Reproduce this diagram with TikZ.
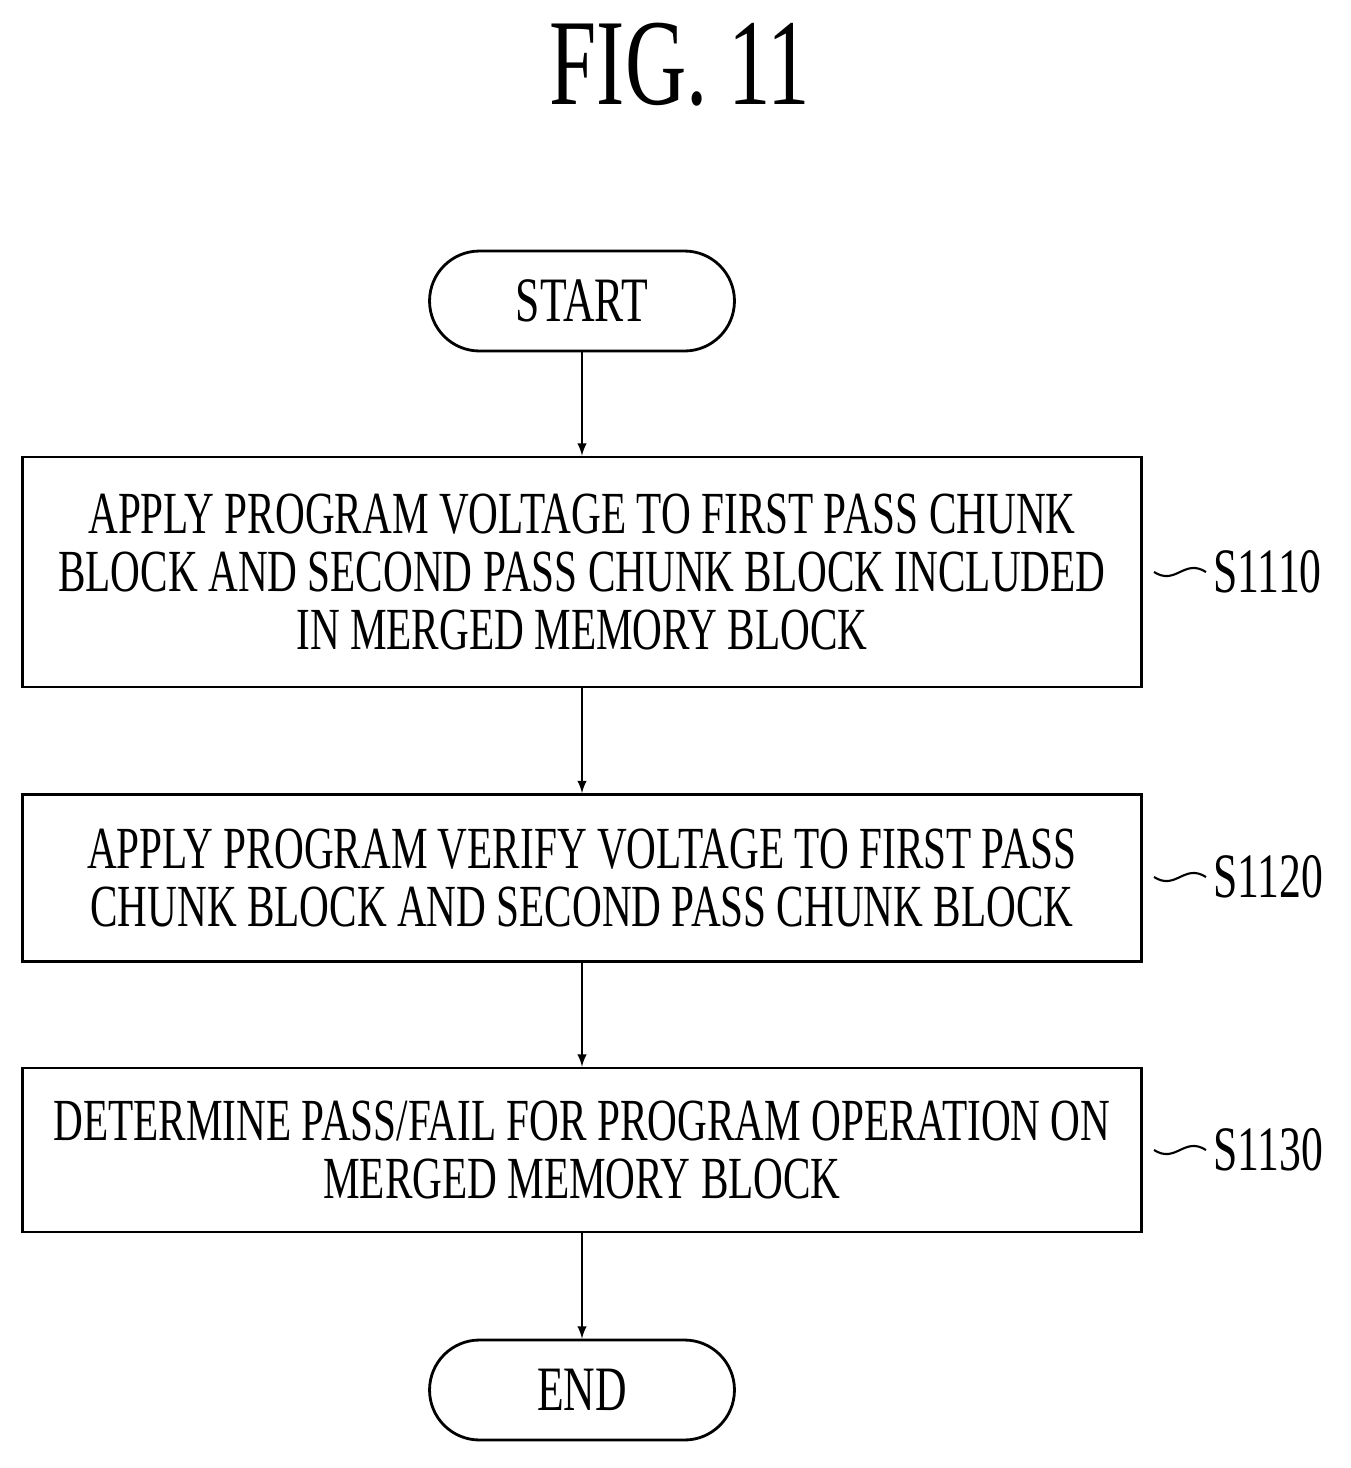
\documentclass[tikz,border=0pt]{standalone}
\usepackage{fontspec}
\setmainfont{Liberation Serif}
\newfontfamily\pfont[FakeStretch=0.69]{Liberation Serif}
\usetikzlibrary{arrows}

\begin{document}
\begin{tikzpicture}[x=0.02cm,y=-0.02cm,line width=1.6pt,
  stepbox/.style={draw,rectangle,minimum width=22.4cm,align=center,
    font=\pfont\fontsize{34}{33}\selectfont},
  term/.style={draw,rectangle,rounded corners=1cm,minimum width=6.1cm,
    minimum height=2cm,font=\pfont\fontsize{36}{33}\selectfont},
  tag/.style={anchor=west,inner sep=0pt,font=\pfont\fontsize{36}{33}\selectfont},
  flow/.style={-latex,line width=1.4pt}]

      \useasboundingbox (0,0) rectangle (1350,1468);

      % title
      \node[font=\pfont\fontsize{70}{70}\selectfont] (title) at (680,65) {FIG. 11};

      % terminals and steps
      \node[term] (start) at (582,301) {START};
      \node[stepbox,minimum height=4.6cm] (s1) at (582,572)
        {APPLY PROGRAM VOLTAGE TO FIRST PASS CHUNK\\
         BLOCK AND SECOND PASS CHUNK BLOCK INCLUDED\\
         IN MERGED MEMORY BLOCK};
      \node[stepbox,minimum height=3.34cm] (s2) at (582,878)
        {APPLY PROGRAM VERIFY VOLTAGE TO FIRST PASS\\
         CHUNK BLOCK AND SECOND PASS CHUNK BLOCK};
      \node[stepbox,minimum height=3.28cm] (s3) at (582,1150)
        {DETERMINE PASS/FAIL FOR PROGRAM OPERATION ON\\
         MERGED MEMORY BLOCK};
      \node[term] (end) at (582,1390) {END};

      % step labels
      \node[tag] (t1) at (1212,572) {S1110};
      \node[tag] (t2) at (1212,877) {S1120};
      \node[tag] (t3) at (1212,1150) {S1130};

      \foreach \t in {t1,t2,t3}
        \draw[line width=1.2pt] (\t.west) ++(-6,0)
          .. controls +(-22,-14) and +(22,14) .. ++(-52,0);

      % arrows
      \draw[flow] (start) -- (s1);
      \draw[flow] (s1) -- (s2);
      \draw[flow] (s2) -- (s3);
      \draw[flow] (s3) -- (end);

\end{tikzpicture}
\end{document}
